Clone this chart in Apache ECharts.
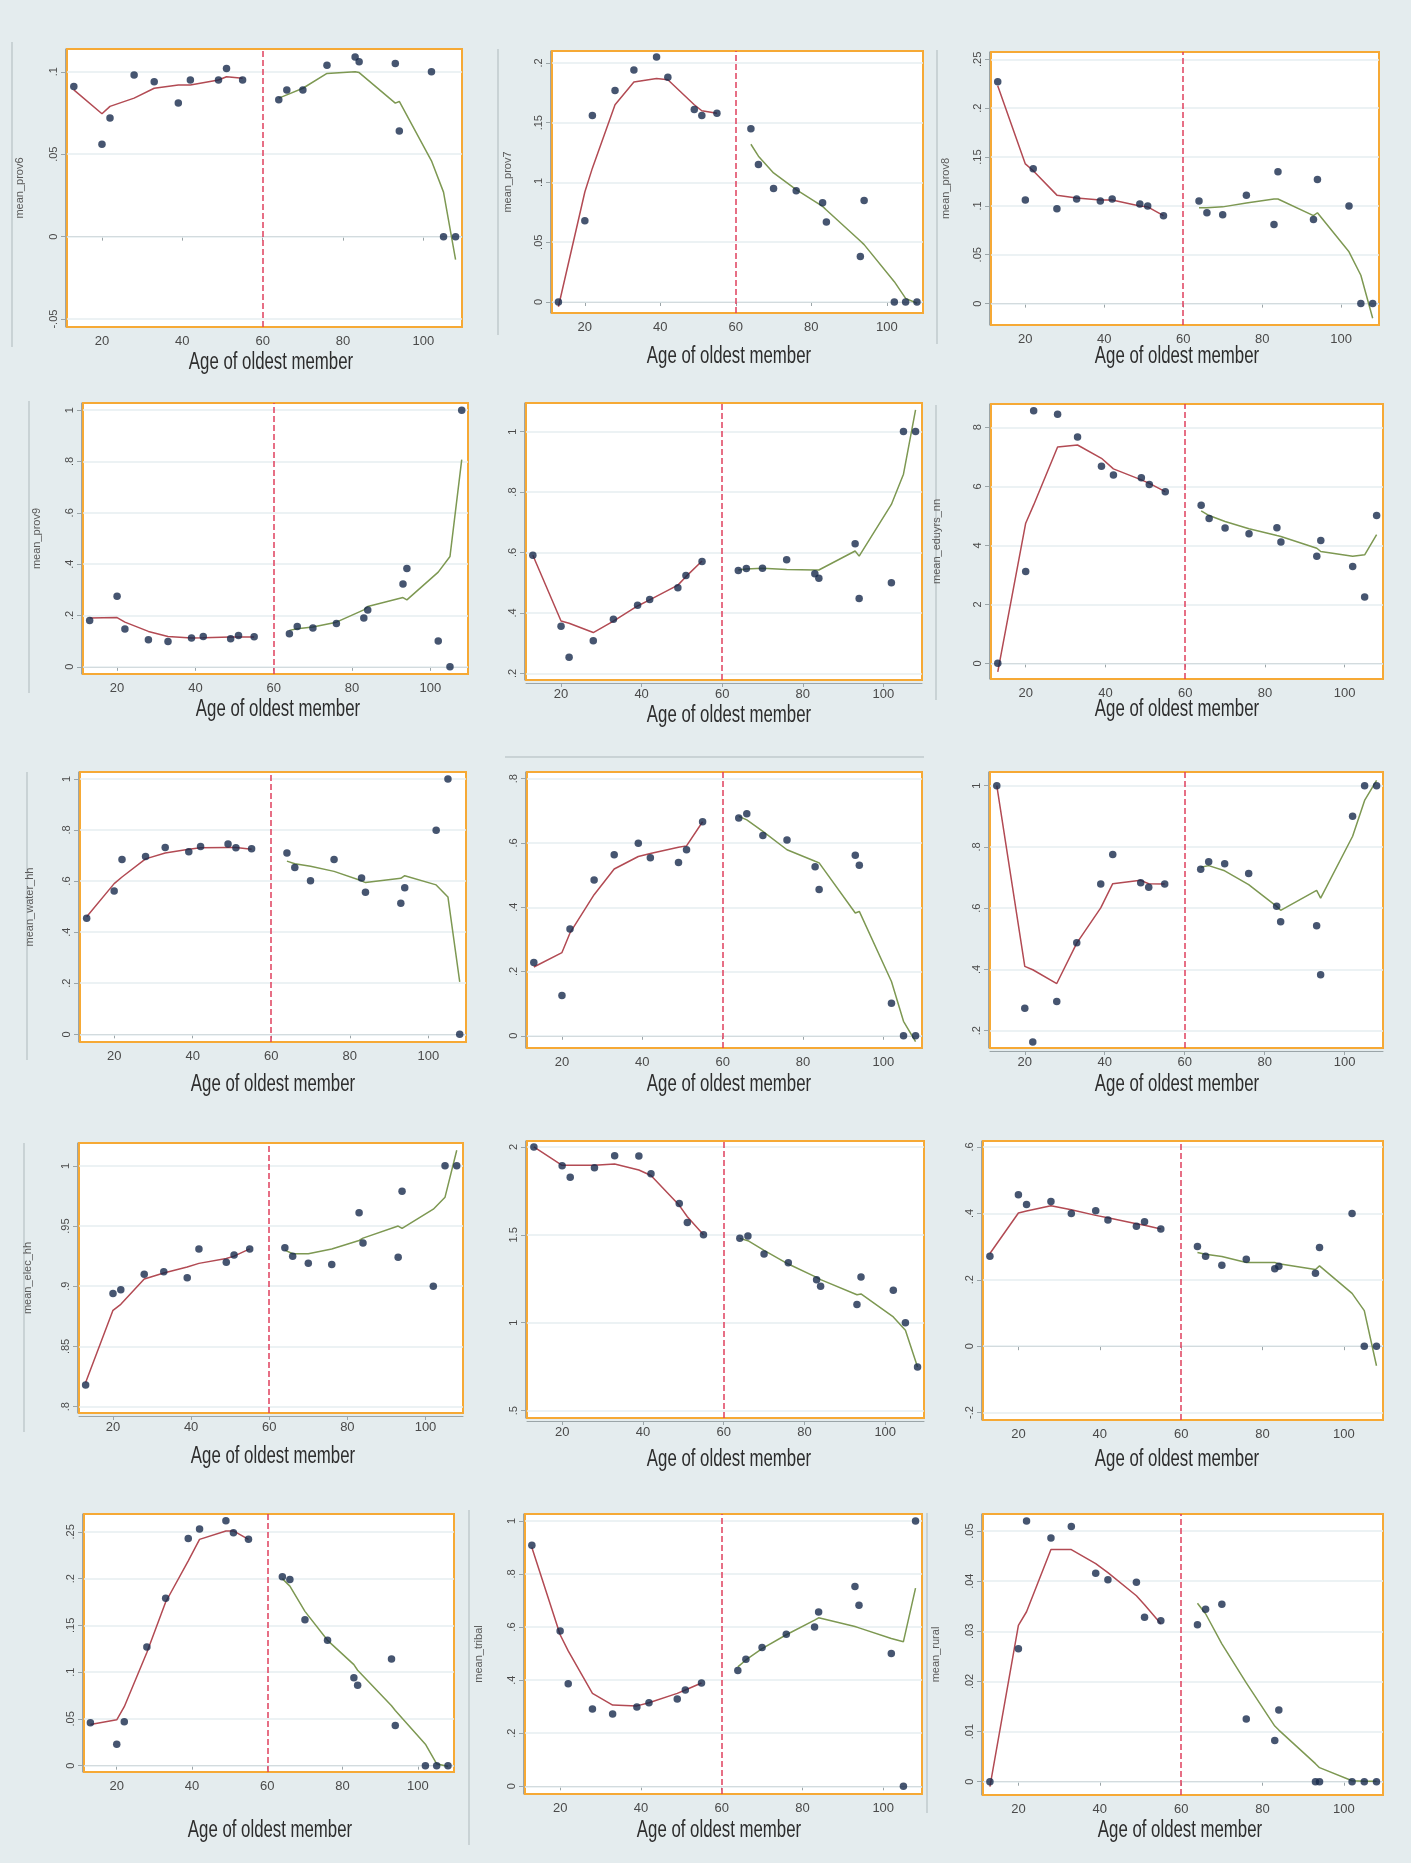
<!DOCTYPE html>
<html>
<head>
<meta charset="utf-8">
<title>Age of oldest member</title>
<script src="https://cdn.jsdelivr.net/npm/echarts@6.0.0/dist/echarts.min.js"></script>
<style>
  html, body { margin: 0; padding: 0; background: #e4ecee; }
  #chart { width: 1411px; height: 1863px; }
</style>
</head>
<body>
<div id="chart"></div>
<script>
// ages of the oldest member, below and above the 60 cut-off
const ageLeft = [13, 20, 22, 28, 33, 39, 42, 49, 51, 55];
const ageRight = [64, 66, 70, 76, 83, 84, 93, 94, 102, 105, 108];
const ageTicks = [20, 40, 60, 80, 100];
const cutoffAge = 60;
const xTitle = 'Age of oldest member';

// bin means (dots) and lowess fits, left block then right block
const prov6Dots = [0.091, 0.056, 0.072, 0.098, 0.094, 0.081, 0.095, 0.095, 0.102, 0.095, 0.083, 0.089, 0.089, 0.104, 0.109, 0.106, 0.105, 0.064, 0.100, 0, 0];
const prov6Fit = [0.089, 0.0745, 0.079, 0.084, 0.090, 0.092, 0.092, 0.095, 0.097, 0.096, 0.084, 0.086, 0.090, 0.099, 0.100, 0.0995, 0.081, 0.082, 0.046, 0.027, -0.014];
const prov6Ticks = [-0.05, 0, 0.05, 0.1];

const prov7Dots = [0, 0.068, 0.156, 0.177, 0.194, 0.205, 0.188, 0.161, 0.156, 0.158, 0.145, 0.115, 0.095, 0.093, 0.083, 0.067, 0.038, 0.085, 0, 0, 0];
const prov7Fit = [-0.004, 0.092, 0.112, 0.165, 0.184, 0.187, 0.186, 0.165, 0.160, 0.158, 0.132, 0.122, 0.108, 0.094, 0.080, 0.077, 0.051, 0.048, 0.017, 0.003, -0.001];
const prov7Ticks = [0, 0.05, 0.1, 0.15, 0.2];

const prov8Dots = [0.227, 0.106, 0.138, 0.097, 0.107, 0.105, 0.107, 0.102, 0.100, 0.090, 0.105, 0.093, 0.091, 0.111, 0.081, 0.135, 0.086, 0.127, 0.100, 0, 0];
const prov8Fit = [0.223, 0.143, 0.136, 0.111, 0.108, 0.106, 0.106, 0.100, 0.099, 0.090, 0.098, 0.098, 0.099, 0.103, 0.107, 0.107, 0.090, 0.093, 0.053, 0.029, -0.015];
const prov8Ticks = [0, 0.05, 0.1, 0.15, 0.2, 0.25];

const prov9Dots = [0.180, 0.275, 0.147, 0.105, 0.099, 0.112, 0.118, 0.109, 0.122, 0.117, 0.129, 0.157, 0.151, 0.169, 0.190, 0.221, 0.323, 0.383, 0.101, 0, 1];
const prov9Fit = [0.190, 0.192, 0.174, 0.138, 0.118, 0.112, 0.113, 0.116, 0.116, 0.116, 0.142, 0.148, 0.155, 0.174, 0.222, 0.235, 0.270, 0.261, 0.369, 0.430, 0.807];
const prov9Ticks = [0, 0.2, 0.4, 0.6, 0.8, 1];

const row2midDots = [0.591, 0.356, 0.253, 0.308, 0.379, 0.425, 0.444, 0.483, 0.524, 0.570, 0.540, 0.547, 0.548, 0.576, 0.530, 0.515, 0.629, 0.448, 0.500, 1, 1];
const row2midFit = [0.591, 0.373, 0.366, 0.335, 0.373, 0.423, 0.443, 0.492, 0.520, 0.572, 0.542, 0.545, 0.548, 0.544, 0.542, 0.542, 0.605, 0.588, 0.759, 0.859, 1.072];
const row2midTicks = [0.2, 0.4, 0.6, 0.8, 1];

const eduDots = [0, 3.11, 8.56, 8.44, 7.67, 6.68, 6.38, 6.29, 6.06, 5.82, 5.36, 4.91, 4.59, 4.39, 4.60, 4.11, 3.63, 4.16, 3.28, 2.25, 5.01];
const eduFit = [-0.29, 4.75, 5.37, 7.33, 7.40, 6.95, 6.59, 6.22, 6.10, 5.82, 5.17, 5.01, 4.81, 4.56, 4.33, 4.30, 3.90, 3.79, 3.63, 3.68, 4.36];
const eduTicks = [0, 2, 4, 6, 8];

const waterDots = [0.454, 0.561, 0.684, 0.696, 0.731, 0.715, 0.735, 0.745, 0.730, 0.727, 0.710, 0.653, 0.601, 0.684, 0.612, 0.556, 0.513, 0.574, 0.799, 1, 0];
const waterFit = [0.460, 0.590, 0.616, 0.687, 0.710, 0.725, 0.730, 0.731, 0.731, 0.725, 0.678, 0.668, 0.658, 0.638, 0.601, 0.594, 0.611, 0.621, 0.585, 0.538, 0.205];
const waterTicks = [0, 0.2, 0.4, 0.6, 0.8, 1];

const row3midDots = [0.228, 0.125, 0.332, 0.485, 0.563, 0.599, 0.554, 0.539, 0.579, 0.666, 0.678, 0.691, 0.623, 0.609, 0.526, 0.455, 0.562, 0.531, 0.101, 0, 0];
const row3midFit = [0.214, 0.259, 0.320, 0.439, 0.519, 0.558, 0.567, 0.587, 0.591, 0.666, 0.683, 0.672, 0.636, 0.579, 0.543, 0.538, 0.382, 0.387, 0.169, 0.045, -0.018];
const row3midTicks = [0, 0.2, 0.4, 0.6, 0.8];

const row3rightDots = [1, 0.273, 0.163, 0.295, 0.487, 0.679, 0.775, 0.683, 0.668, 0.679, 0.727, 0.752, 0.745, 0.713, 0.606, 0.556, 0.543, 0.383, 0.900, 1, 1];
const row3rightFit = [1, 0.410, 0.399, 0.354, 0.486, 0.601, 0.680, 0.691, 0.680, 0.679, 0.734, 0.739, 0.722, 0.677, 0.606, 0.593, 0.658, 0.633, 0.835, 0.952, 1.017];
const row3rightTicks = [0.2, 0.4, 0.6, 0.8, 1];

const elecDots = [0.818, 0.894, 0.897, 0.910, 0.912, 0.907, 0.931, 0.920, 0.926, 0.931, 0.932, 0.925, 0.919, 0.918, 0.961, 0.936, 0.924, 0.979, 0.900, 1, 1];
const elecFit = [0.820, 0.880, 0.885, 0.906, 0.911, 0.916, 0.919, 0.923, 0.925, 0.931, 0.930, 0.927, 0.927, 0.931, 0.938, 0.940, 0.950, 0.948, 0.964, 0.974, 1.013];
const elecTicks = [0.8, 0.85, 0.9, 0.95, 1];

const row4midDots = [2, 1.893, 1.828, 1.882, 1.950, 1.948, 1.848, 1.679, 1.571, 1.501, 1.480, 1.493, 1.391, 1.342, 1.245, 1.208, 1.104, 1.260, 1.185, 1.0, 0.748];
const row4midFit = [2, 1.896, 1.896, 1.896, 1.903, 1.869, 1.838, 1.668, 1.603, 1.501, 1.480, 1.467, 1.412, 1.334, 1.258, 1.245, 1.159, 1.164, 1.033, 0.957, 0.748];
const row4midTicks = [0.5, 1, 1.5, 2];

const row4rightDots = [0.271, 0.456, 0.427, 0.436, 0.400, 0.408, 0.380, 0.361, 0.375, 0.353, 0.300, 0.271, 0.244, 0.262, 0.233, 0.241, 0.220, 0.297, 0.400, 0, 0];
const row4rightFit = [0.279, 0.401, 0.407, 0.423, 0.411, 0.394, 0.387, 0.369, 0.364, 0.353, 0.282, 0.277, 0.270, 0.252, 0.252, 0.248, 0.231, 0.242, 0.159, 0.107, -0.059];
const row4rightTicks = [-0.2, 0, 0.2, 0.4, 0.6];

const row5leftDots = [0.046, 0.023, 0.047, 0.127, 0.179, 0.243, 0.253, 0.262, 0.249, 0.242, 0.202, 0.199, 0.156, 0.134, 0.094, 0.086, 0.114, 0.043, 0, 0, 0];
const row5leftFit = [0.044, 0.049, 0.063, 0.121, 0.175, 0.219, 0.242, 0.251, 0.251, 0.242, 0.200, 0.192, 0.165, 0.134, 0.108, 0.102, 0.064, 0.059, 0.023, 0.002, -0.001];
const row5leftTicks = [0, 0.05, 0.1, 0.15, 0.2, 0.25];

const tribalDots = [0.908, 0.585, 0.386, 0.291, 0.272, 0.299, 0.315, 0.329, 0.363, 0.389, 0.436, 0.479, 0.523, 0.573, 0.600, 0.657, 0.753, 0.682, 0.500, 0, 1];
const tribalFit = [0.900, 0.571, 0.510, 0.350, 0.306, 0.303, 0.315, 0.350, 0.363, 0.389, 0.450, 0.476, 0.519, 0.571, 0.626, 0.635, 0.602, 0.597, 0.557, 0.545, 0.747];
const tribalTicks = [0, 0.2, 0.4, 0.6, 0.8, 1];

const ruralDots = [0, 0.0265, 0.052, 0.0486, 0.0509, 0.0416, 0.0403, 0.0398, 0.0328, 0.0321, 0.0313, 0.0344, 0.0354, 0.0125, 0.0082, 0.0143, 0, 0, 0, 0, 0];
const ruralFit = [-0.001, 0.0312, 0.0339, 0.0463, 0.0463, 0.0435, 0.0417, 0.0371, 0.0353, 0.0315, 0.0356, 0.0335, 0.0275, 0.0197, 0.0111, 0.0103, 0.0036, 0.0028, 0.0002, 0.0001, 0.0001];
const ruralTicks = [0, 0.01, 0.02, 0.03, 0.04, 0.05];

// box = plot frame [left, top, right, bottom] in px, titleAt = centre of the x title
const panels = [
  { yName: 'mean_prov6', dots: prov6Dots, fit: prov6Fit, ticks: prov6Ticks, box: [67, 49, 462, 327], yRange: [-0.0548, 0.1138], titleAt: [271, 363], nameGap: 40 },
  { yName: 'mean_prov7', dots: prov7Dots, fit: prov7Fit, ticks: prov7Ticks, box: [552, 51, 923, 313], yRange: [-0.0092, 0.21], titleAt: [729, 357], nameGap: 37 },
  { yName: 'mean_prov8', dots: prov8Dots, fit: prov8Fit, ticks: prov8Ticks, box: [991, 52, 1379, 325], yRange: [-0.0219, 0.2575], titleAt: [1177, 357], nameGap: 38 },
  { yName: 'mean_prov9', dots: prov9Dots, fit: prov9Fit, ticks: prov9Ticks, box: [83, 403, 468, 674], yRange: [-0.028, 1.028], titleAt: [278, 710], nameGap: 39 },
  { yName: '', dots: row2midDots, fit: row2midFit, ticks: row2midTicks, box: [526, 403, 922, 680], yRange: [0.178, 1.0947], titleAt: [729, 716], nameGap: 40 },
  { yName: 'mean_eduyrs_nn', dots: eduDots, fit: eduFit, ticks: eduTicks, box: [991, 404, 1383, 679], yRange: [-0.53, 8.79], titleAt: [1177, 710], nameGap: 47 },
  { yName: 'mean_water_hh', dots: waterDots, fit: waterFit, ticks: waterTicks, box: [80, 772, 466, 1042], yRange: [-0.03, 1.027], titleAt: [273, 1085], nameGap: 43 },
  { yName: '', dots: row3midDots, fit: row3midFit, ticks: row3midTicks, box: [527, 772, 922, 1048], yRange: [-0.038, 0.8209], titleAt: [729, 1085], nameGap: 40 },
  { yName: '', dots: row3rightDots, fit: row3rightFit, ticks: row3rightTicks, box: [990, 772, 1383, 1048], yRange: [0.1435, 1.0447], titleAt: [1177, 1085], nameGap: 40 },
  { yName: 'mean_elec_hh', dots: elecDots, fit: elecFit, ticks: elecTicks, box: [79, 1143, 463, 1413], yRange: [0.7947, 1.019], titleAt: [273, 1457], nameGap: 44 },
  { yName: '', dots: row4midDots, fit: row4midFit, ticks: row4midTicks, box: [527, 1141, 924, 1418], yRange: [0.458, 2.034], titleAt: [729, 1460], nameGap: 40 },
  { yName: '', dots: row4rightDots, fit: row4rightFit, ticks: row4rightTicks, box: [983, 1141, 1383, 1420], yRange: [-0.2223, 0.618], titleAt: [1177, 1460], nameGap: 40 },
  { yName: '', dots: row5leftDots, fit: row5leftFit, ticks: row5leftTicks, box: [84, 1514, 454, 1772], yRange: [-0.0068, 0.2691], titleAt: [270, 1831], nameGap: 40 },
  { yName: 'mean_tribal', dots: tribalDots, fit: tribalFit, ticks: tribalTicks, box: [525, 1514, 922, 1794], yRange: [-0.029, 1.026], titleAt: [719, 1831], nameGap: 39 },
  { yName: 'mean_rural', dots: ruralDots, fit: ruralFit, ticks: ruralTicks, box: [983, 1514, 1383, 1795], yRange: [-0.00265, 0.0534], titleAt: [1180, 1831], nameGap: 40 }
];

const xRange = [11.3, 109.6];
const labelFont = "'Liberation Sans', Arial, sans-serif";

// Stata style numbers: .05 instead of 0.05
function stataLabel(v) {
  const s = String(Number(Number(v).toFixed(4)));
  return s.replace(/^(-?)0\./, '$1.');
}

const grids = [];
const xAxes = [];
const yAxes = [];
const series = [];
const titles = [];

panels.forEach((p, i) => {
  const [l, t, r, b] = p.box;
  const n = ageLeft.length;
  const ages = ageLeft.concat(ageRight);

  grids.push({
    left: l, top: t, width: r - l, height: b - t,
    show: true, backgroundColor: '#ffffff',
    borderColor: '#f6a935', borderWidth: 2
  });

  xAxes.push({
    gridIndex: i,
    type: 'value',
    min: xRange[0],
    max: xRange[1],
    offset: 3,
    axisLine: { show: true, lineStyle: { color: '#9ba5a8', width: 1 } },
    axisTick: { show: true, length: 4, customValues: ageTicks, lineStyle: { color: '#9ba5a8' } },
    axisLabel: { customValues: ageTicks, color: '#4a4a4a', fontSize: 13, margin: 5, fontFamily: labelFont },
    splitLine: { show: false }
  });

  yAxes.push({
    gridIndex: i,
    type: 'value',
    min: p.yRange[0],
    max: p.yRange[1],
    offset: 2,
    name: p.yName,
    nameLocation: 'middle',
    nameRotate: 90,
    nameGap: p.nameGap,
    nameTextStyle: { fontSize: 11, color: '#5a5a5a', fontFamily: labelFont },
    axisLine: { show: true, lineStyle: { color: '#9ba5a8', width: 1 } },
    axisTick: { show: true, length: 4, customValues: p.ticks, lineStyle: { color: '#9ba5a8' } },
    axisLabel: { customValues: p.ticks, rotate: 90, color: '#4a4a4a', fontSize: 11, margin: 6, formatter: stataLabel, fontFamily: labelFont },
    splitLine: { show: false }
  });

  // grid lines at the y ticks and the dashed cut-off line, kept under the marks
  series.push({
    type: 'scatter',
    xAxisIndex: i,
    yAxisIndex: i,
    data: [],
    silent: true,
    z: 1,
    markLine: {
      z: 1,
      silent: true,
      symbol: 'none',
      animation: false,
      label: { show: false },
      data: p.ticks.map(v => ({ yAxis: v, lineStyle: { color: '#e6eef0', width: 1.5, type: 'solid' } }))
        .concat([{ xAxis: cutoffAge, lineStyle: { color: '#e0405e', width: 1.5, type: [6, 3] } }])
    }
  });

  series.push({
    type: 'line',
    xAxisIndex: i,
    yAxisIndex: i,
    data: ageLeft.map((a, k) => [a, p.fit[k]]),
    showSymbol: false,
    silent: true,
    lineStyle: { color: '#b24a53', width: 1.5 },
    z: 2
  });

  series.push({
    type: 'line',
    xAxisIndex: i,
    yAxisIndex: i,
    data: ageRight.map((a, k) => [a, p.fit[n + k]]),
    showSymbol: false,
    silent: true,
    lineStyle: { color: '#7d9852', width: 1.5 },
    z: 2
  });

  series.push({
    type: 'scatter',
    xAxisIndex: i,
    yAxisIndex: i,
    data: ages.map((a, k) => [a, p.dots[k]]),
    symbolSize: 7.5,
    silent: true,
    itemStyle: { color: '#182a4c' },
    z: 3
  });

  // condensed x title: squeeze a normal sans horizontally
  titles.push({
    type: 'text',
    silent: true,
    x: p.titleAt[0],
    y: p.titleAt[1],
    scaleX: 0.73,
    style: {
      text: xTitle,
      align: 'center',
      verticalAlign: 'middle',
      fontFamily: labelFont,
      fontSize: 23,
      fill: '#2d2d2d'
    }
  });
});

// thin leftover borders from the pasted graphs
const edgeLines = [
  [12, 42, 12, 347], [498, 49, 498, 335], [937, 50, 937, 344],
  [29, 401, 29, 693], [936, 405, 936, 700], [27, 772, 27, 1060],
  [505, 757, 924, 757], [24, 1143, 24, 1432], [469, 1510, 469, 1845],
  [927, 1513, 927, 1813]
];

const chart = echarts.init(document.getElementById('chart'));
chart.setOption({
  animation: false,
  backgroundColor: '#e4ecee',
  grid: grids,
  xAxis: xAxes,
  yAxis: yAxes,
  series: series,
  graphic: edgeLines.map(e => ({
    type: 'line',
    silent: true,
    shape: { x1: e[0], y1: e[1], x2: e[2], y2: e[3] },
    style: { stroke: '#aeb9bc', lineWidth: 1 }
  })).concat(titles)
});
</script>
</body>
</html>
